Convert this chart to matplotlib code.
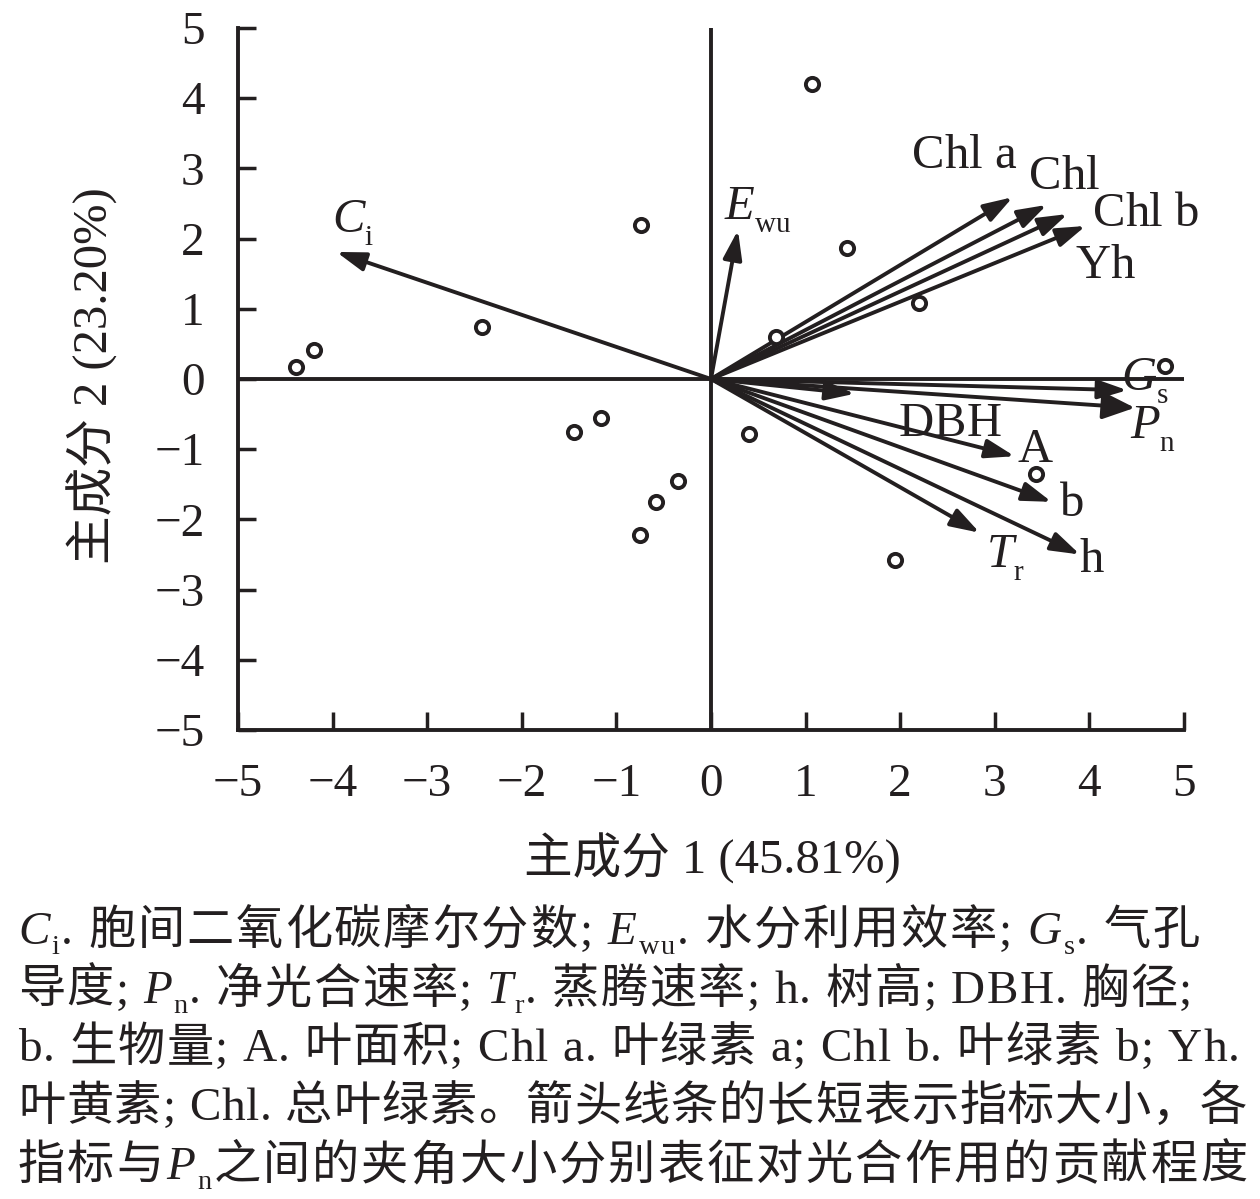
import matplotlib
matplotlib.use('Agg')
import matplotlib.pyplot as plt
from matplotlib.font_manager import FontProperties, findfont, get_font

plt.rcParams['font.family'] = ['Liberation Serif', 'Noto Sans CJK SC']
plt.rcParams['axes.unicode_minus'] = True

INK = '#231f20'
W, H = 1260, 1199

# 样本得分 (主成分 1, 主成分 2)
score_x = [-4.39, -4.20, -2.42, -0.74, -1.45, -1.16, -0.75, -0.58, -0.35,
           0.40, 0.69, 1.07, 1.44, 2.20, 3.44, 1.95, 4.80]
score_y = [0.17, 0.41, 0.74, 2.19, -0.75, -0.56, -2.22, -1.75, -1.45,
           -0.78, 0.60, 4.20, 1.87, 1.08, -1.35, -2.58, 0.19]

# 指标载荷: (主体, 下标)
var_names = [('C', 'i'), ('E', 'wu'), ('Chl a', ''), ('Chl', ''), ('Chl b', ''), ('Yh', ''),
             ('G', 's'), ('P', 'n'), ('DBH', ''), ('A', ''), ('b', ''),
             ('T', 'r'), ('h', '')]
load_x = [-3.96, 0.285, 3.19, 3.55, 3.77, 3.96, 4.40, 4.48, 1.52, 3.21, 3.60, 2.84, 3.90]
load_y = [1.81, 2.12, 2.59, 2.48, 2.35, 2.18, -0.16, -0.41, -0.21, -1.10, -1.75, -2.19, -2.50]

# 标签相对箭头尖端的偏移 (像素, 向右/向下为正)
label_offsets = [(-4, -20), (-13, -11), (-101, -29), (-18, -16), (25, 12), (-10, 52),
                 (-6, 0), (-5, 30), (44, 42), (3, 6), (8, 14), (7, 34), (0, 17)]

fig = plt.figure(figsize=(W / 100, H / 100), dpi=100)
ax = fig.add_axes([238 / W, 1 - 730 / H, (1184 - 238) / W, (730 - 28) / H])
ax.set_xlim(-5, 5)
ax.set_ylim(-5, 5)
for side in ['top', 'right']:
    ax.spines[side].set_visible(False)
for side in ['left', 'bottom']:
    ax.spines[side].set_linewidth(2.8)
    ax.spines[side].set_color(INK)
ax.axhline(0, color=INK, lw=2.8, zorder=1)
ax.axvline(0, color=INK, lw=2.8, zorder=1)
ax.set_xticks(range(-5, 6))
ax.set_yticks(range(-5, 6))
ax.tick_params(direction='in', length=13, width=2.5, labelsize=34, pad=24,
               colors=INK)

fp_lat = FontProperties(family='Liberation Serif')
fp_ita = FontProperties(family='Liberation Serif', style='italic')
fp_cjk = FontProperties(family='Noto Sans CJK SC')


def char_font(ch, st, size):
    if ord(ch) > 0x2E80:
        fp = fp_cjk.copy()
    elif st == 'i':
        fp = fp_ita.copy()
    else:
        fp = fp_lat.copy()
    fp.set_size(size * 0.6 if st == 's' else size)
    return fp


def advance(ch, fp):
    font = get_font(findfont(fp))
    font.set_size(fp.get_size_in_points(), 100)
    g = font.load_char(ord(ch))
    return g.linearHoriAdvance / 65536


def rich_text(segments, x0, base, size, x1=None, sub_drop=0.27):
    # 逐字排版, 像素坐标 (y 向下); 给出 x1 时两端对齐
    chars = [(ch, st) for txt, st in segments for ch in txt]
    fps = [char_font(ch, st, size) for ch, st in chars]
    widths = [advance(ch, fp) for (ch, st), fp in zip(chars, fps)]
    gap = 0 if x1 is None else (x1 - x0 - sum(widths)) / (len(chars) - 1)
    x = x0
    for (ch, st), fp, w in zip(chars, fps, widths):
        y = base + (sub_drop * size * 100 / 72 if st == 's' else 0)
        if ch != ' ':
            fig.text(x / W, 1 - y / H, ch, fontproperties=fp, ha='left',
                     va='baseline', color=INK)
        x += w + gap


# 箭头
for i, (main, sub) in enumerate(var_names):
    if main == 'P':
        style = '-|>,head_length=0.9,head_width=0.38'
    else:
        style = '-|>,head_length=0.8,head_width=0.26'
    ax.annotate('', xy=(load_x[i], load_y[i]), xytext=(0, 0),
                arrowprops=dict(arrowstyle=style, mutation_scale=22, lw=2.8,
                                color=INK, shrinkA=0, shrinkB=0), zorder=3)
    px, py = ax.transData.transform((load_x[i], load_y[i]))
    py = H - py
    segs = [(main, 'i' if sub else 'n')]
    if sub:
        segs.append((sub, 's'))
    rich_text(segs, px + label_offsets[i][0], py + label_offsets[i][1], 35)

ax.plot(score_x, score_y, 'o', ms=9.5, mfc='white', mec=INK, mew=2.8, zorder=5)

fig.text(712 / W, 1 - 858 / H, '主成分 1 (45.81%)', fontsize=35, ha='center',
         va='center', color=INK)
fig.text(92 / W, 1 - 376 / H, '主成分 2 (23.20%)', fontsize=35, ha='center',
         va='center', rotation=90, color=INK)

# 图注
caption = [
    [('C', 'i'), ('i', 's'), ('. 胞间二氧化碳摩尔分数; ', 'n'), ('E', 'i'), ('wu', 's'),
     ('. 水分利用效率; ', 'n'), ('G', 'i'), ('s', 's'), ('. 气孔', 'n')],
    [('导度; ', 'n'), ('P', 'i'), ('n', 's'), ('. 净光合速率; ', 'n'), ('T', 'i'),
     ('r', 's'), ('. 蒸腾速率; h. 树高; DBH. 胸径;', 'n')],
    [('b. 生物量; A. 叶面积; Chl a. 叶绿素 a; Chl b. 叶绿素 b; Yh.', 'n')],
    [('叶黄素; Chl. 总叶绿素。箭头线条的长短表示指标大小，各', 'n')],
    [('指标与', 'n'), ('P', 'i'), ('n', 's'), ('之间的夹角大小分别表征对光合作用的贡献程度', 'n')],
]
line_right = [1200, 1192, 1240, 1247, 1247]
line_base = [944, 1003, 1061, 1120, 1179]
for segs, xr, yb in zip(caption, line_right, line_base):
    rich_text(segs, 18, yb, 34, x1=xr, sub_drop=0.22)

fig.savefig('out.png', dpi=100)
